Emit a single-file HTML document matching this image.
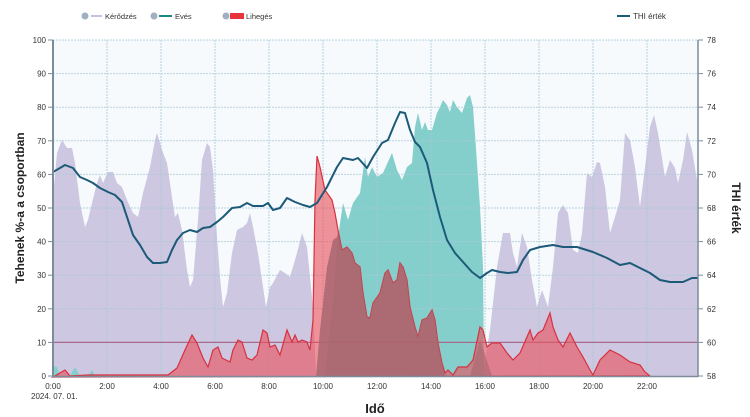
<!DOCTYPE html>
<html><head><meta charset="utf-8"><style>
body{margin:0;background:#fff;}
svg{display:block;font-family:"Liberation Sans",sans-serif;}
</style></head><body>
<svg width="750" height="417" viewBox="0 0 750 417" xmlns="http://www.w3.org/2000/svg">
<rect x="53" y="40" width="645" height="336" fill="#f6fafc"/>
<!-- lilac -->
<polygon fill="#cdc7e1" points="53,376 53,197 57,153 62,140 67,148 72,148 75,163 80,203 85,227 88,220 92,203 97,183 100,175 103,183 108,172 113,172 117,183 122,187 127,200 133,213 138,217 143,193 150,167 155,140 157,133 162,150 167,163 172,197 175,217 178,213 182,230 187,270 190,287 193,280 198,220 202,160 207,143 210,147 213,170 217,237 220,277 223,307 227,293 232,253 237,230 243,227 247,223 250,213 253,227 258,253 263,287 266,307 270,287 273,283 280,270 285,273 290,277 297,253 302,233 307,247 310,277 313,307 316,376"/>
<polygon fill="#cdc7e1" points="483,376 483,373 490,330 497,267 503,233 510,233 513,253 517,267 522,233 527,247 532,280 537,307 542,290 548,307 553,267 558,213 563,205 568,213 573,250 578,253 582,233 587,173 592,177 597,162 600,163 605,187 610,233 615,217 620,200 625,133 630,140 635,167 640,207 645,167 650,127 654,115 658,133 665,177 670,160 675,168 678,183 683,160 687,132 692,150 697,180 698,376"/>
<!-- teal -->
<polygon fill="#84cfcb" points="325,376 333,300 338,237 343,203 348,220 353,203 360,193 365,157 368,177 372,167 377,177 383,173 392,153 397,170 402,180 407,167 412,163 415,127 418,113 422,130 425,122 428,130 432,130 437,113 440,107 443,100 447,105 450,112 453,100 457,107 462,113 467,98 470,95 473,107 477,163 480,207 483,267 484,370 485,376"/>
<polygon fill="#84cfcb" points="53,376 53,366 57,367 60,376 70,376 75,367 80,376 88,376 92,370 95,376"/>
<!-- grid -->
<g stroke="#a9cad8" stroke-width="1" stroke-dasharray="2,1" opacity="0.8">
<line x1="53" y1="40" x2="698" y2="40"/><line x1="53" y1="73.6" x2="698" y2="73.6"/><line x1="53" y1="107.2" x2="698" y2="107.2"/><line x1="53" y1="140.8" x2="698" y2="140.8"/><line x1="53" y1="174.4" x2="698" y2="174.4"/><line x1="53" y1="208" x2="698" y2="208"/><line x1="53" y1="241.6" x2="698" y2="241.6"/><line x1="53" y1="275.2" x2="698" y2="275.2"/><line x1="53" y1="308.8" x2="698" y2="308.8"/>
<line x1="107" y1="40" x2="107" y2="376"/><line x1="161" y1="40" x2="161" y2="376"/><line x1="215" y1="40" x2="215" y2="376"/><line x1="269" y1="40" x2="269" y2="376"/><line x1="323" y1="40" x2="323" y2="376"/><line x1="377" y1="40" x2="377" y2="376"/><line x1="431" y1="40" x2="431" y2="376"/><line x1="485" y1="40" x2="485" y2="376"/><line x1="539" y1="40" x2="539" y2="376"/><line x1="593" y1="40" x2="593" y2="376"/><line x1="647" y1="40" x2="647" y2="376"/>
</g>
<line x1="53" y1="342.4" x2="698" y2="342.4" stroke="#a86b8c" stroke-width="1.2"/>
<!-- red -->
<polygon fill="rgba(232,80,92,0.62)" stroke="#d8303e" stroke-width="1.2" points="53,377 65,370 70,376 88,375 168,375 177,368 185,350 192,335 197,343 203,358 208,367 213,350 218,347 222,358 230,362 233,350 238,340 242,342 247,358 252,360 257,355 263,330 267,333 270,347 275,345 280,355 287,330 292,342 295,335 298,342 302,340 307,342 310,350 313,320 315,200 317,156 320,167 325,190 332,200 335,213 338,230 342,250 347,247 352,253 355,263 360,267 363,293 367,317 370,318 373,303 380,293 385,273 388,270 393,283 397,280 400,263 403,267 407,280 410,307 415,327 418,337 422,320 427,318 432,310 435,320 438,343 442,363 445,373 448,370 453,375 458,367 467,367 473,360 480,327 483,330 487,347 492,343 500,343 507,353 513,360 520,353 530,330 533,340 538,333 543,330 550,313 553,327 558,340 563,347 570,333 577,347 583,357 590,370 593,375 600,360 610,350 620,355 630,362 640,365 645,372 650,376"/>
<!-- brown overlap -->
<polygon fill="#a86670" opacity="0.85" points="316,376 320,330 327,267 333,240 337,237 338,232 342,250 347,247 352,253 355,263 360,267 363,293 367,317 370,318 373,303 380,293 385,273 388,270 393,283 397,280 400,263 403,267 407,280 410,307 415,327 418,337 422,320 427,318 432,310 435,320 438,343 442,363 445,376"/>
<polygon fill="#a86670" opacity="0.6" points="470,376 480,340 485,355 492,376"/>
<!-- THI -->
<polyline fill="none" stroke="#1d5a78" stroke-width="2" stroke-linejoin="round" points="53,172 60,168 65,165 73,168 80,177 87,180 93,183 100,188 108,192 115,195 122,202 128,220 133,235 140,245 147,257 153,263 160,263 167,262 172,250 177,240 183,233 190,230 197,232 203,228 210,227 217,222 223,217 232,208 240,207 247,203 253,206 263,206 268,203 273,210 280,208 287,198 295,202 303,205 310,207 317,203 327,187 337,167 343,158 353,160 358,158 367,168 373,157 382,143 388,140 395,123 400,112 405,113 410,130 415,142 420,147 427,163 433,190 440,217 447,240 455,253 463,262 472,272 480,278 487,273 492,270 500,272 508,273 517,272 523,260 530,250 540,247 553,245 563,247 577,247 593,252 607,258 620,265 630,263 640,268 650,273 660,280 670,282 683,282 692,278 698,278"/>
<!-- axes -->
<line x1="53" y1="40" x2="53" y2="377" stroke="#7d8c9a" stroke-width="2"/>
<line x1="698" y1="40" x2="698" y2="377" stroke="#7d8c9a" stroke-width="1.5"/>
<line x1="53" y1="376.5" x2="698" y2="376.5" stroke="#7d8c9a" stroke-width="1.5"/>
<g font-size="8" fill="#333" text-anchor="end">
<text x="46" y="43">100</text><text x="46" y="76.6">90</text><text x="46" y="110.2">80</text><text x="46" y="143.8">70</text><text x="46" y="177.4">60</text><text x="46" y="211">50</text><text x="46" y="244.6">40</text><text x="46" y="278.2">30</text><text x="46" y="311.8">20</text><text x="46" y="345.4">10</text><text x="46" y="379">0</text>
</g>
<g stroke="#7d8c9a"><line x1="48" y1="40" x2="53" y2="40"/><line x1="48" y1="73.6" x2="53" y2="73.6"/><line x1="48" y1="107.2" x2="53" y2="107.2"/><line x1="48" y1="140.8" x2="53" y2="140.8"/><line x1="48" y1="174.4" x2="53" y2="174.4"/><line x1="48" y1="208" x2="53" y2="208"/><line x1="48" y1="241.6" x2="53" y2="241.6"/><line x1="48" y1="275.2" x2="53" y2="275.2"/><line x1="48" y1="308.8" x2="53" y2="308.8"/><line x1="48" y1="342.4" x2="53" y2="342.4"/><line x1="48" y1="376" x2="53" y2="376"/>
<line x1="698" y1="40" x2="703" y2="40"/><line x1="698" y1="73.6" x2="703" y2="73.6"/><line x1="698" y1="107.2" x2="703" y2="107.2"/><line x1="698" y1="140.8" x2="703" y2="140.8"/><line x1="698" y1="174.4" x2="703" y2="174.4"/><line x1="698" y1="208" x2="703" y2="208"/><line x1="698" y1="241.6" x2="703" y2="241.6"/><line x1="698" y1="275.2" x2="703" y2="275.2"/><line x1="698" y1="308.8" x2="703" y2="308.8"/><line x1="698" y1="342.4" x2="703" y2="342.4"/><line x1="698" y1="376" x2="703" y2="376"/></g>
<g font-size="8" fill="#333" text-anchor="start">
<text x="707" y="43">78</text><text x="707" y="76.6">76</text><text x="707" y="110.2">74</text><text x="707" y="143.8">72</text><text x="707" y="177.4">70</text><text x="707" y="211">68</text><text x="707" y="244.6">66</text><text x="707" y="278.2">64</text><text x="707" y="311.8">62</text><text x="707" y="345.4">60</text><text x="707" y="379">58</text>
</g>
<g font-size="8" fill="#333" text-anchor="middle">
<text x="53" y="389">0:00</text><text x="107" y="389">2:00</text><text x="161" y="389">4:00</text><text x="215" y="389">6:00</text><text x="269" y="389">8:00</text><text x="323" y="389">10:00</text><text x="377" y="389">12:00</text><text x="431" y="389">14:00</text><text x="485" y="389">16:00</text><text x="539" y="389">18:00</text><text x="593" y="389">20:00</text><text x="647" y="389">22:00</text>
</g>
<text x="31" y="399" font-size="8" fill="#333">2024. 07. 01.</text>
<text x="375" y="413" font-size="13" font-weight="bold" fill="#222" text-anchor="middle">Idő</text>
<text transform="translate(24,208) rotate(-90)" font-size="12" font-weight="bold" fill="#222" text-anchor="middle">Tehenek %-a a csoportban</text>
<text transform="translate(732,208) rotate(90)" font-size="12" font-weight="bold" fill="#222" text-anchor="middle">THI érték</text>
<!-- legend -->
<g font-size="7.5" fill="#333">
<circle cx="85" cy="16" r="3.5" fill="#9fb0c0"/><line x1="91" y1="16" x2="102" y2="16" stroke="#c8c0e0" stroke-width="2"/><text x="105" y="19">Kérődzés</text>
<circle cx="154" cy="16" r="3.5" fill="#9fb0c0"/><line x1="159" y1="16" x2="172" y2="16" stroke="#1a8a80" stroke-width="2"/><text x="175" y="19">Evés</text>
<circle cx="226" cy="16" r="3.5" fill="#9fb0c0"/><rect x="230" y="13" width="14" height="6" fill="#e8323c"/><text x="246" y="19">Lihegés</text>
<line x1="617" y1="16" x2="630" y2="16" stroke="#1d5a78" stroke-width="2"/><text x="633" y="19" font-size="8">THI érték</text>
</g>
</svg>
</body></html>
